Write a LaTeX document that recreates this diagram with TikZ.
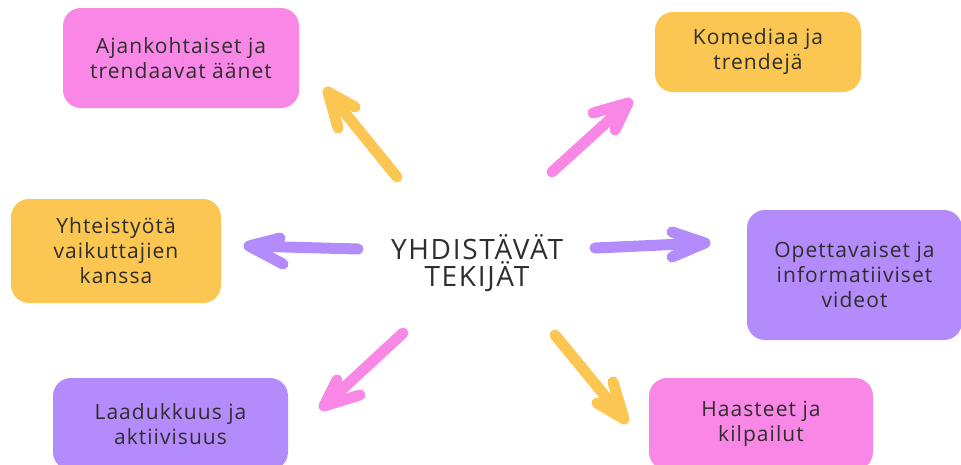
\documentclass[tikz,border=0pt]{standalone}
\usepackage{fontspec}
\setmainfont[LetterSpace=5]{Open Sans}
\newfontfamily\titlefont[LetterSpace=6]{Open Sans}
\definecolor{boxpink}{HTML}{F987E5}
\definecolor{boxyellow}{HTML}{FBC652}
\definecolor{boxpurple}{HTML}{B38BFA}
\definecolor{txtgray}{HTML}{2E2E2E}
\begin{document}
\begin{tikzpicture}[x=1pt,y=-1pt,
  card/.style={rounded corners=18pt, inner sep=0pt, align=center, text=txtgray,
    font=\fontsize{21}{25}\selectfont},
  brush/.style={line width=11pt, line cap=round, line join=round}]
\useasboundingbox (0,0) rectangle (961,464);
\clip (0,0) rectangle (961,464);
% boxes
\node[card, fill=boxpink, minimum width=236pt, minimum height=100pt] (b1) at (181,58) {Ajankohtaiset ja\\trendaavat äänet};
\node[card, fill=boxyellow, minimum width=206pt, minimum height=80pt] (b2) at (758,52) {Komediaa ja\\trendejä};
\node[card, fill=boxyellow, minimum width=210pt, minimum height=104pt] (b3) at (116,251) {Yhteistyötä\\vaikuttajien\\kanssa};
\node[card, fill=boxpurple, minimum width=215pt, minimum height=130pt] (b4) at (854.5,275) {Opettavaiset ja\\informatiiviset\\videot};
\node[card, fill=boxpurple, minimum width=235pt, minimum height=92pt] (b5) at (170.5,424) {Laadukkuus ja\\aktiivisuus};
\node[card, fill=boxpink, minimum width=224pt, minimum height=92pt] (b6) at (761,424) {Haasteet ja\\kilpailut};
% center
\node[align=center, text=txtgray, font=\titlefont\fontsize{28}{27}\selectfont] (c) at (477,263) {YHDISTÄVÄT\\TEKIJÄT};
% arrow coordinates
\coordinate (t1) at (397,177); \coordinate (h1) at (328,92);
\coordinate (p1a) at (355,107); \coordinate (p1b) at (338,128);
\coordinate (t2) at (552,172); \coordinate (h2) at (628,103);
\coordinate (p2a) at (593,113); \coordinate (p2b) at (615,130);
\coordinate (t3) at (358,249); \coordinate (h3) at (249,246);
\coordinate (p3a) at (280,238); \coordinate (p3b) at (283,264);
\coordinate (t4) at (595,248); \coordinate (h4) at (705,243);
\coordinate (p4a) at (672,232); \coordinate (p4b) at (672,257);
\coordinate (t5) at (403,333); \coordinate (h5) at (324,406);
\coordinate (p5a) at (337,380); \coordinate (p5b) at (360,395);
\coordinate (t6) at (555,335); \coordinate (h6) at (624,419);
\coordinate (p6a) at (613,382); \coordinate (p6b) at (597,403);
% arrows
\draw[brush, boxyellow] (t1) -- (h1) (p1a) -- (h1) -- (p1b);
\draw[brush, boxpink] (t2) -- (h2) (p2a) -- (h2) -- (p2b);
\draw[brush, boxpurple] (t3) -- (h3) (p3a) -- (h3) -- (p3b);
\draw[brush, boxpurple] (t4) -- (h4) (p4a) -- (h4) -- (p4b);
\draw[brush, boxpink] (t5) -- (h5) (p5a) -- (h5) -- (p5b);
\draw[brush, boxyellow] (t6) -- (h6) (p6a) -- (h6) -- (p6b);
\end{tikzpicture}
\end{document}
